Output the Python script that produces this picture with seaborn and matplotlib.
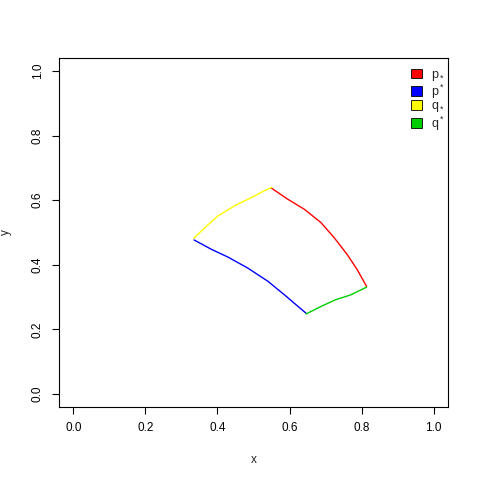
import matplotlib
matplotlib.use("Agg")
import matplotlib.pyplot as plt
import seaborn as sns
import pandas as pd
from matplotlib.patches import Patch

# p_* (red)
p_lo_x = [0.549, 0.595, 0.641, 0.687, 0.724, 0.760, 0.788, 0.814]
p_lo_y = [0.638, 0.603, 0.572, 0.531, 0.484, 0.432, 0.385, 0.333]
# p^* (blue)
p_hi_x = [0.335, 0.383, 0.429, 0.484, 0.540, 0.586, 0.646]
p_hi_y = [0.477, 0.448, 0.424, 0.390, 0.349, 0.307, 0.250]
# q_* (yellow)
q_lo_x = [0.334, 0.365, 0.401, 0.448, 0.494, 0.530, 0.551]
q_lo_y = [0.482, 0.515, 0.551, 0.583, 0.608, 0.629, 0.640]
# q^* (green)
q_hi_x = [0.646, 0.687, 0.728, 0.770, 0.814]
q_hi_y = [0.248, 0.271, 0.292, 0.307, 0.331]

labels = [r"$p_*^{\ }$", r"$p^*_{\ }$", r"$q_*^{\ }$", r"$q^*_{\ }$"]
colors = ["#FF0000", "#0000FF", "#FFFF00", "#00CD00"]
xticks = [0.0, 0.2, 0.4, 0.6, 0.8, 1.0]
yticks = [0.0, 0.2, 0.4, 0.6, 0.8, 1.0]

series = [(p_lo_x, p_lo_y), (p_hi_x, p_hi_y), (q_lo_x, q_lo_y), (q_hi_x, q_hi_y)]
rows = []
for lab, (xs, ys) in zip(labels, series):
    for i, (a, b) in enumerate(zip(xs, ys)):
        rows.append({"x": a, "y": b, "seg": lab, "order": i})
df = pd.DataFrame(rows)

sns.set_style("ticks")
plt.rcParams["font.family"] = ["Liberation Sans", "DejaVu Sans"]
plt.rcParams["mathtext.fontset"] = "custom"
plt.rcParams["mathtext.rm"] = "Liberation Sans"
plt.rcParams["mathtext.it"] = "Liberation Sans"

fig = plt.figure(figsize=(4.8, 4.8), dpi=100)
ax = fig.add_axes([59/480, (480-407)/480, (448-59)/480, (407-58)/480])

sns.lineplot(data=df, x="x", y="y", hue="seg", palette=dict(zip(labels, colors)),
             sort=False, estimator=None, ax=ax, linewidth=1.0, legend=False)

ax.set_xlim(-0.04, 1.04)
ax.set_ylim(-0.04, 1.04)
ax.set_xticks(xticks)
ax.set_yticks(yticks)
ax.set_xticklabels([f"{v:.1f}" for v in xticks])
ax.set_yticklabels([f"{v:.1f}" for v in yticks], rotation=90, va="center")
ax.tick_params(direction="out", length=5, width=0.8, labelsize=8.5, colors="black", pad=6)
for s in ax.spines.values():
    s.set_visible(True)
    s.set_color("black")
    s.set_linewidth(0.8)
ax.set_xlabel("x", fontsize=8.5, labelpad=14)
ax.set_ylabel("y", fontsize=8.5, labelpad=14)

handles = [Patch(facecolor=c, edgecolor="black", linewidth=0.6) for c in colors]
leg = ax.legend(handles, labels, loc="upper right", bbox_to_anchor=(1.0, 0.977),
                frameon=False, fontsize=9, handlelength=0.9, handleheight=0.8,
                handletextpad=0.7, labelspacing=0.0, borderaxespad=0.0, borderpad=0.2)

fig.savefig("out.png", dpi=100, facecolor="white")
